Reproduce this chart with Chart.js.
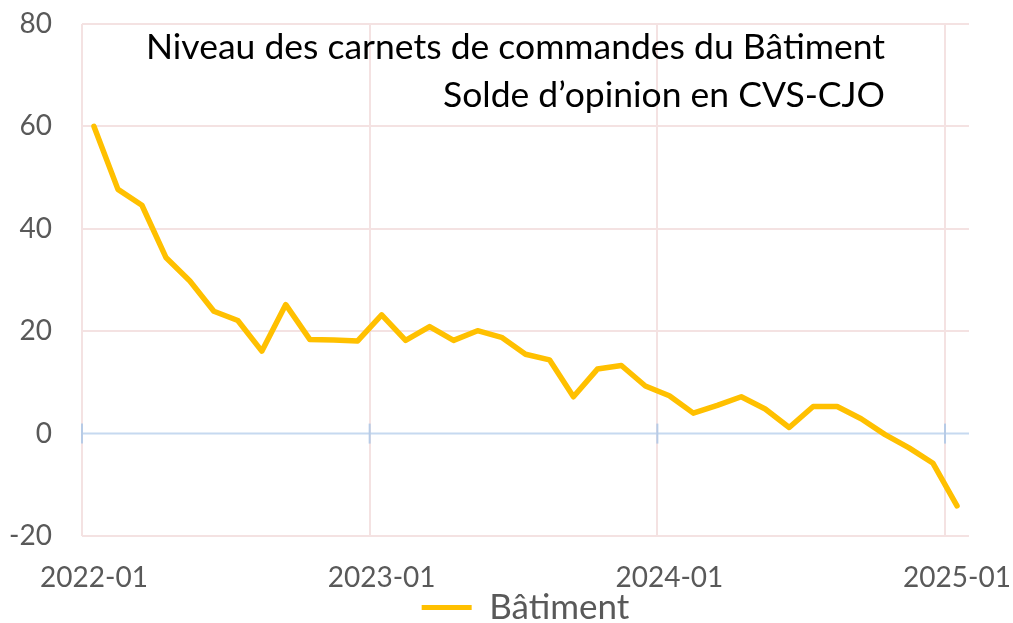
<!DOCTYPE html>
<html>
<head>
<meta charset="utf-8">
<script src="https://cdn.jsdelivr.net/npm/chart.js@4/dist/chart.umd.min.js"></script>
<style>
  html, body { margin: 0; padding: 0; background: #fff; }
  #wrap { width: 1013px; height: 623px; }
</style>
</head>
<body>
<div id="wrap"><canvas id="chart"></canvas></div>
<script>
// Data (monthly, 2022-01 .. 2025-01)
const months = [
  '2022-01', '2022-02', '2022-03', '2022-04', '2022-05', '2022-06',
  '2022-07', '2022-08', '2022-09', '2022-10', '2022-11', '2022-12',
  '2023-01', '2023-02', '2023-03', '2023-04', '2023-05', '2023-06',
  '2023-07', '2023-08', '2023-09', '2023-10', '2023-11', '2023-12',
  '2024-01', '2024-02', '2024-03', '2024-04', '2024-05', '2024-06',
  '2024-07', '2024-08', '2024-09', '2024-10', '2024-11', '2024-12',
  '2025-01'
];
const batiment = [
  60.0, 47.7, 44.6, 34.4, 29.8, 23.9,
  22.1, 16.1, 25.2, 18.4, 18.3, 18.1,
  23.2, 18.2, 20.9, 18.2, 20.1, 18.8,
  15.5, 14.4, 7.2, 12.6, 13.3, 9.3,
  7.4, 4.0, 5.5, 7.2, 4.8, 1.2,
  5.3, 5.3, 2.9, -0.2, -2.8, -5.8,
  -14.1
];
const yearTicks = ['2022-01', '2023-01', '2024-01', '2025-01'];
const yMin = -20, yMax = 80, yStep = 20;
const titleLines = ['Niveau des carnets de commandes du Bâtiment', 'Solde d\u2019opinion en CVS-CJO'];

const FONT = 'Lato, "Noto Sans", sans-serif';
const GREY = '#595959';
const PINK = '#F4E2E2';
const GOLD = '#FFC000';

// zero axis (blue) with year tick marks
const zeroAxis = {
  id: 'zeroAxis',
  beforeDatasetsDraw(chart) {
    const { ctx, chartArea, scales: { x, y } } = chart;
    const y0 = y.getPixelForValue(0);
    const half = (x.getPixelForValue(1) - x.getPixelForValue(0)) / 2;
    ctx.save();
    ctx.strokeStyle = '#C6D9F0';
    ctx.lineWidth = 2;
    ctx.beginPath();
    ctx.moveTo(chartArea.left, y0);
    ctx.lineTo(chartArea.right, y0);
    ctx.stroke();
    ctx.strokeStyle = '#B7CBE6';
    months.forEach((m, i) => {
      if (!yearTicks.includes(m)) return;
      const px = x.getPixelForValue(i) - half;
      ctx.beginPath();
      ctx.moveTo(px, y0 - 10);
      ctx.lineTo(px, y0 + 10);
      ctx.stroke();
    });
    ctx.restore();
  }
};

// two-line title inside the plot, right aligned
const innerTitle = {
  id: 'innerTitle',
  afterDraw(chart) {
    const { ctx } = chart;
    ctx.save();
    ctx.font = '35.5px ' + FONT;
    ctx.fillStyle = '#000';
    ctx.textAlign = 'right';
    ctx.textBaseline = 'middle';
    ctx.fillText(titleLines[0], 885, 48);
    ctx.fillText(titleLines[1], 885, 96);
    ctx.restore();
  }
};

new Chart(document.getElementById('chart'), {
  type: 'line',
  data: {
    labels: months,
    datasets: [{
      label: 'Bâtiment',
      data: batiment,
      borderColor: GOLD,
      backgroundColor: GOLD,
      borderWidth: 5.5,
      borderCapStyle: 'round',
      borderJoinStyle: 'round',
      pointRadius: 0,
      tension: 0
    }]
  },
  options: {
    responsive: true,
    maintainAspectRatio: false,
    animation: false,
    layout: { padding: { top: 24, right: 44, left: 0, bottom: -12 } },
    scales: {
      x: {
        offset: true,
        afterFit: scale => {
          scale.height = 54;
          scale.paddingLeft = 0;
          scale.paddingRight = 0;
        },
        grid: {
          offset: true,
          drawTicks: false,
          lineWidth: 2,
          color: ctx => (ctx.tick && yearTicks.includes(months[ctx.index])) ? PINK : 'transparent'
        },
        border: { display: false },
        ticks: {
          autoSkip: false,
          maxRotation: 0,
          padding: 25,
          color: GREY,
          font: { family: FONT, size: 28 },
          callback: (v, i) => yearTicks.includes(months[i]) ? months[i] : ''
        }
      },
      y: {
        min: yMin,
        max: yMax,
        afterFit: scale => {
          scale.width = 82;
          scale.paddingTop = 0;
          scale.paddingBottom = 0;
        },
        grid: {
          drawTicks: false,
          lineWidth: 2,
          color: ctx => ctx.tick && ctx.tick.value === 0 ? 'transparent' : PINK
        },
        border: { display: false },
        ticks: {
          stepSize: yStep,
          padding: 30,
          color: GREY,
          font: { family: FONT, size: 28 }
        }
      }
    },
    plugins: {
      title: { display: false },
      tooltip: { enabled: false },
      legend: {
        position: 'bottom',
        fullSize: false,
        labels: {
          padding: 0,
          boxWidth: 50,
          boxHeight: 5,
          color: GREY,
          font: { family: FONT, size: 35, lineHeight: 1 },
          generateLabels: chart => Chart.defaults.plugins.legend.labels.generateLabels(chart)
            .map(l => Object.assign(l, { lineWidth: 0, fillStyle: GOLD }))
        }
      }
    }
  },
  plugins: [zeroAxis, innerTitle]
});
</script>
</body>
</html>
